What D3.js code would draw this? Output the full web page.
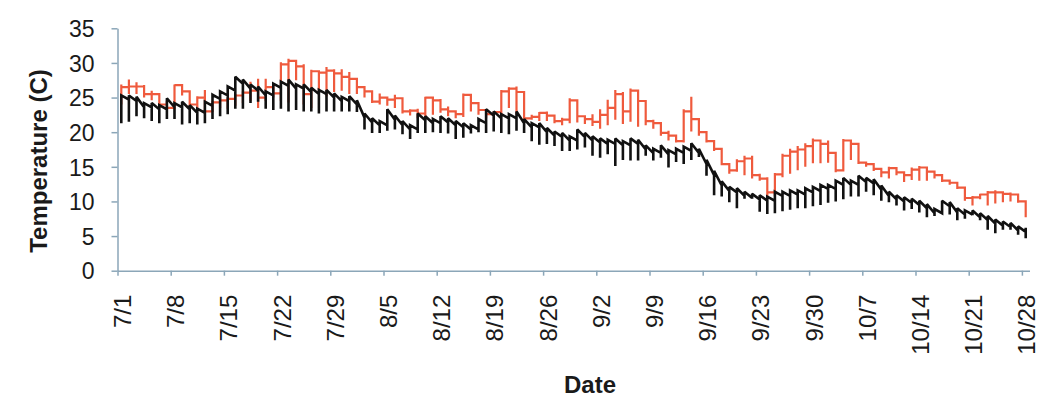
<!DOCTYPE html>
<html>
<head>
<meta charset="utf-8">
<script src="https://cdn.jsdelivr.net/npm/d3@7"></script>
<style>
  html, body { margin: 0; padding: 0; background: #ffffff; }
  svg { display: block; font-family: "Liberation Sans", Arial, sans-serif; }
</style>
</head>
<body>
<svg id="chart" width="1045" height="399"></svg>
<script>
// ---- Data (daily, 7/1 .. 10/28) ----
const firstDay = "2011-07-01";
const lastDayExclusive = "2011-10-29";
const tickLabels = ["7/1","7/8","7/15","7/22","7/29","8/5","8/12","8/19","8/26","9/2","9/9","9/16","9/23","9/30","10/7","10/14","10/21","10/28"];
const yTicks = [0,5,10,15,20,25,30,35];

// Black series: daily high, daily low, and first reading of each day
const blackHigh = [25.3,25.3,25.1,24.2,24.2,23.9,24.9,24.2,24.4,23.9, 23.4,24.4,25.4,25.9,26.6,28.0,27.6,26.9,26.6,25.9,
  27.0,27.3,27.6,26.9,26.9,26.4,26.1,26.1,25.6,25.1, 25.2,24.6,22.7,22.0,21.6,23.3,22.4,21.6,21.0,22.7,
  22.3,21.9,22.3,22.0,21.6,21.3,21.0,21.9,23.3,23.0, 22.6,22.6,23.0,21.9,21.3,21.3,20.6,20.1,19.9,19.4,
  20.4,19.9,19.4,19.1,18.9,19.1,18.7,19.1,18.9,18.1, 17.6,18.1,17.4,17.6,17.9,18.4,17.6,16.0,14.4,12.9,
  12.1,11.9,11.4,11.1,10.9,10.7,11.4,11.4,11.6,11.6, 11.9,12.1,12.4,12.4,13.0,13.4,13.0,13.7,13.4,13.2,
  12.3,11.4,10.9,10.6,10.4,10.1,9.6,8.9,10.1,9.9, 9.0,8.7,8.7,8.3,7.9,7.4,7.1,6.9,6.4,6.2];
const blackLow = [21.3,21.5,22.3,22.0,21.6,21.3,21.9,21.9,21.1,21.3, 21.1,21.3,21.9,22.3,22.6,23.4,23.4,24.2,24.4,23.4,
  23.2,23.4,23.0,23.2,23.0,23.0,22.7,23.0,23.0,23.0, 23.0,22.9,20.4,19.9,19.9,20.2,20.4,19.7,19.0,19.9,
  19.9,20.0,19.9,19.8,19.0,19.2,19.8,20.0,19.9,20.1, 19.9,19.7,20.2,19.9,18.7,18.2,18.3,18.0,17.3,17.3,
  17.5,17.8,16.6,16.3,16.8,15.1,16.0,15.9,15.9,16.6, 15.9,16.3,14.9,15.7,15.4,16.0,16.4,13.7,10.9,10.7,
  9.9,9.0,10.4,10.4,8.5,8.2,8.3,8.6,8.8,9.0, 9.0,9.3,9.5,9.8,10.0,10.3,10.7,10.7,11.4,10.9,
  10.1,9.9,9.4,8.7,8.9,8.4,7.7,7.9,8.7,8.1, 7.3,7.5,8.0,7.3,5.9,5.4,5.9,5.9,5.2,4.7];
const blackOpen = [24.6,24.7,24.5,23.6,23.6,23.3,23.3,23.6,23.6,23.3, 22.8,22.8,23.8,24.8,25.3,26.0,27.0,26.3,26.0,25.3,
  25.3,26.4,26.7,26.3,26.3,25.8,25.5,25.5,25.0,24.5, 24.5,24.0,22.1,21.4,21.0,21.0,21.8,21.0,20.4,20.4,
  21.7,21.3,21.3,21.4,21.0,20.7,20.4,20.4,21.3,22.4, 22.0,22.0,22.0,21.3,20.7,20.7,20.0,19.5,19.3,18.8,
  18.8,19.3,18.8,18.5,18.3,18.3,18.1,18.1,18.3,17.5, 17.0,17.0,16.8,16.8,17.0,17.3,17.0,15.4,13.8,12.3,
  11.5,11.3,10.8,10.5,10.3,10.1,10.1,10.8,10.8,11.0, 11.0,11.3,11.5,11.8,11.8,12.4,12.4,12.4,12.8,12.6,
  11.7,10.8,10.3,10.0,9.8,9.5,9.0,8.3,8.3,9.3, 8.4,8.1,8.1,7.7,7.3,6.8,6.5,6.3,5.8,5.6];

// Red series: daily high, daily low, and last reading of each day
const redHigh = [26.9,27.6,27.2,26.8,26.0,25.5,24.5,26.9,26.6,25.9, 25.2,26.1,24.5,25.0,24.9,25.5,25.9,27.3,27.7,27.7,
  26.5,30.1,30.6,30.4,29.8,29.0,28.9,29.4,29.1,29.1, 28.7,27.7,26.6,25.9,25.6,25.0,25.4,24.5,23.3,23.4,
  25.1,25.1,24.8,23.7,23.0,25.6,25.4,23.8,23.3,23.0, 26.1,26.5,26.6,25.8,22.5,22.9,23.0,22.4,22.1,24.9,
  24.6,22.4,22.6,23.3,24.7,26.1,25.8,26.3,25.9,24.5, 21.8,21.4,20.2,19.5,23.3,25.1,21.9,20.0,18.7,17.6,
  15.4,16.1,16.6,16.6,14.0,13.5,14.1,16.9,17.6,18.0, 18.4,19.1,18.9,18.8,16.6,19.0,18.7,18.3,15.6,15.4,
  14.7,15.0,14.8,14.2,14.9,15.1,14.9,14.3,13.8,13.0, 12.7,12.0,10.8,11.1,11.5,11.6,11.3,11.3,11.0,9.9];
const redLow = [24.0,25.5,25.5,25.0,24.6,23.5,23.2,23.3,25.3,23.3, 23.5,22.7,22.9,23.5,23.4,23.8,24.2,24.5,23.5,24.5,
  25.0,24.5,24.3,27.5,24.0,23.5,25.5,25.2,25.8,26.0, 25.5,25.5,25.0,24.2,24.0,23.8,23.5,22.7,22.4,22.0,
  22.3,22.5,22.8,22.3,22.0,22.2,23.0,22.5,22.0,22.3, 22.5,23.5,22.5,21.7,21.8,21.6,21.6,21.3,21.0,21.3,
  21.4,21.2,20.9,20.5,21.0,21.8,21.2,21.5,20.8,21.0, 20.5,19.5,18.8,18.5,18.5,20.1,19.5,18.5,17.3,15.3,
  14.0,14.3,13.8,13.3,13.0,10.6,10.8,13.5,14.0,14.5, 15.0,15.5,15.5,15.6,14.2,14.8,16.0,15.4,15.0,14.4,
  13.5,13.3,13.8,12.8,13.1,13.0,13.0,13.3,12.8,12.4, 11.8,10.1,9.4,10.3,9.4,9.7,9.9,10.0,9.8,7.7];
const redLast = [26.5,26.6,26.6,25.5,25.5,24.0,23.5,26.8,25.9,24.0, 25.0,23.0,24.3,24.6,24.8,25.3,25.7,26.0,25.0,26.5,
  25.6,29.8,30.3,29.5,25.5,28.8,28.6,28.9,28.5,28.0, 27.7,26.5,25.9,24.4,25.0,24.7,24.9,23.0,23.1,22.7,
  25.0,24.6,23.3,23.0,22.6,25.4,24.2,23.2,22.6,22.9, 25.9,26.3,25.8,22.0,22.2,22.8,22.4,21.6,21.8,24.6,
  22.3,21.9,21.5,22.5,23.5,25.5,23.0,26.0,24.5,21.6, 21.3,19.9,19.5,18.7,23.0,21.9,20.0,18.7,17.6,15.4,
  14.5,15.8,16.2,13.8,13.3,11.3,13.9,16.6,17.2,17.5, 18.0,18.8,18.3,17.0,14.5,18.8,18.3,15.6,15.4,14.7,
  14.2,14.8,14.2,13.8,14.6,14.9,14.3,13.8,13.0,12.7, 12.0,10.5,10.6,11.0,11.3,11.3,11.1,11.0,10.0,8.3];

// ---- Setup ----
const svg = d3.select("#chart");
const start = new Date(firstDay + "T00:00:00Z");
const end = new Date(lastDayExclusive + "T00:00:00Z");
const days = d3.utcDay.range(start, end);
const noon = d => d3.utcHour.offset(d, 12);

const x = d3.scaleUtc().domain([start, end]).range([117.5, 1029.5]);
const y = d3.scaleLinear().domain([0, 35]).range([270.7, 28.3]);

const axisColor = "#8ba6b8";
const textColor = "#1a1a1a";

// ---- Y axis ----
const yAxis = svg.append("g")
  .attr("transform", `translate(${x(start)},0)`)
  .call(d3.axisLeft(y).tickValues(yTicks).tickSize(6).tickPadding(17).tickSizeOuter(0));
yAxis.select(".domain").attr("stroke", axisColor).attr("stroke-width", 1.5);
yAxis.selectAll(".tick line").attr("stroke", axisColor).attr("stroke-width", 1.5);
yAxis.selectAll(".tick text").attr("fill", textColor).style("font-size", "23px").attr("dy", "0.36em");

// ---- X axis ----
const parseTick = d3.utcParse("%Y/%m/%d");
const tickDates = tickLabels.map(l => parseTick("2011/" + l));
const xAxis = svg.append("g")
  .attr("transform", `translate(0,${y(0)})`)
  .call(d3.axisBottom(x).tickValues(tickDates).tickSize(5).tickSizeOuter(0).tickFormat(""));
xAxis.select(".domain").attr("stroke", axisColor).attr("stroke-width", 1.5);
xAxis.selectAll(".tick line").attr("stroke", axisColor).attr("stroke-width", 1.5);

svg.append("g").selectAll("text")
  .data(tickDates)
  .join("text")
  .attr("transform", d => `translate(${x(noon(d)) + 1},${y(0) + 24}) rotate(-90)`)
  .attr("text-anchor", "end")
  .attr("dy", "0.36em")
  .attr("fill", textColor)
  .style("font-size", "24px")
  .text((d, i) => tickLabels[i]);

// ---- Titles ----
svg.append("text")
  .attr("transform", "translate(47,161) rotate(-90)")
  .attr("text-anchor", "middle")
  .attr("fill", textColor)
  .style("font-size", "24px").style("font-weight", "bold")
  .text("Temperature (C)");
svg.append("text")
  .attr("x", 590).attr("y", 393)
  .attr("text-anchor", "middle")
  .attr("fill", textColor)
  .style("font-size", "24px").style("font-weight", "bold")
  .text("Date");

// ---- Lines ----
const line = d3.line().x(p => x(p.t)).y(p => y(p.v));

const redPts = [];
days.forEach((d, i) => {
  const t = noon(d);
  if (i > 0) redPts.push({t, v: redLast[i - 1]});
  redPts.push({t, v: redLow[i]});
  redPts.push({t, v: redHigh[i]});
  redPts.push({t, v: redLast[i]});
});
const blackPts = [];
days.forEach((d, i) => {
  const t = noon(d);
  blackPts.push({t, v: blackOpen[i]});
  blackPts.push({t, v: blackLow[i]});
  blackPts.push({t, v: blackHigh[i]});
});

svg.append("path")
  .datum(redPts)
  .attr("d", line)
  .attr("fill", "none")
  .attr("stroke", "#ef5a3d")
  .attr("stroke-width", 2.2)
  .attr("stroke-linejoin", "miter")
  .attr("stroke-miterlimit", 2);

svg.append("path")
  .datum(blackPts)
  .attr("d", line)
  .attr("fill", "none")
  .attr("stroke", "#111111")
  .attr("stroke-width", 2.6)
  .attr("stroke-linejoin", "miter")
  .attr("stroke-miterlimit", 2);
</script>
</body>
</html>
